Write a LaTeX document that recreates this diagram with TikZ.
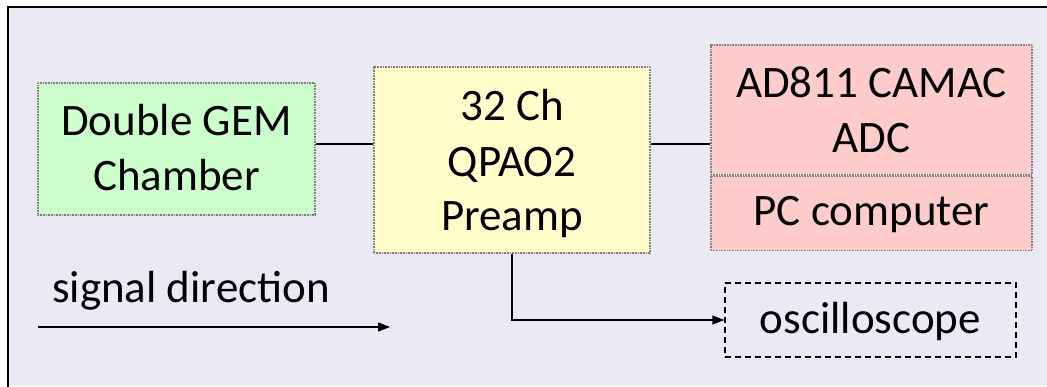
\documentclass[tikz,border=0pt]{standalone}
\usepackage{fontspec}
\setmainfont{Carlito}
\usetikzlibrary{arrows.meta}
\definecolor{bgl}{HTML}{EBE9F4}
\definecolor{gbox}{HTML}{CCFFCC}
\definecolor{ybox}{HTML}{FFFFCC}
\definecolor{rbox}{HTML}{FFCCCC}
\definecolor{dotc}{HTML}{7F7F7F}
\begin{document}
\begin{tikzpicture}[x=1pt,y=-1pt,
  every node/.style={font=\fontsize{45}{55}\selectfont, inner sep=0pt, align=center},
  blk/.style={draw=dotc, line width=1.2pt, dash pattern=on 1pt off 0.6pt, rectangle},
  conn/.style={line width=1.3pt, black},
  arr/.style={conn, -{Triangle[length=12pt,width=9pt]}}]
\useasboundingbox (0,0) rectangle (1047,386);
\fill[white] (0,0) rectangle (1047,386);
\fill[bgl] (8,7) rectangle (1047,386);
\draw[line width=2.2pt] (8,390) -- (8,7) -- (1050,7);
% boxes
\node[blk, fill=gbox, minimum width=277pt, minimum height=132pt] (gem) at (176.5,149) {};
\node[blk, fill=ybox, minimum width=276pt, minimum height=186pt] (pre) at (512,160) {};
\node[blk, fill=rbox, minimum width=321pt, minimum height=130pt] (adc) at (871.5,110) {};
\node[blk, fill=rbox, minimum width=321pt, minimum height=74pt, anchor=north] (pc) at (adc.south) {};
\node[draw, dashed, dash pattern=on 6pt off 4pt, line width=1.3pt, minimum width=291pt, minimum height=74pt] (osc) at (870.5,320) {};
% texts
\node[anchor=base] (gemt) at (176.5,135) {Double GEM};
\node[anchor=base] (gemt2) at (176.5,190) {Chamber};
\node[anchor=base] (pret1) at (512,120) {32 Ch};
\node[anchor=base] (pret2) at (512,176) {QPAO2};
\node[anchor=base] (pret3) at (512,230) {Preamp};
\node[anchor=base] (adct1) at (871.5,97) {AD811 CAMAC};
\node[anchor=base] (adct2) at (871.5,152) {ADC};
\node[anchor=base] (pct) at (871.5,225) {PC computer};
\node[anchor=base] (osct) at (870.5,333) {oscilloscope};
\node[anchor=base west] (sig) at (52,302) {signal direction};
% connectors
\draw[conn] (gem.east |- 0,144) -- (pre.west |- 0,144);
\draw[conn] (pre.east |- 0,144) -- (adc.west |- 0,144);
\draw[arr] (pre.south) |- (osc.west);
\coordinate (s1) at (38,327);
\coordinate (s2) at (390,327);
\draw[arr] (s1) -- (s2);
\end{tikzpicture}
\end{document}
